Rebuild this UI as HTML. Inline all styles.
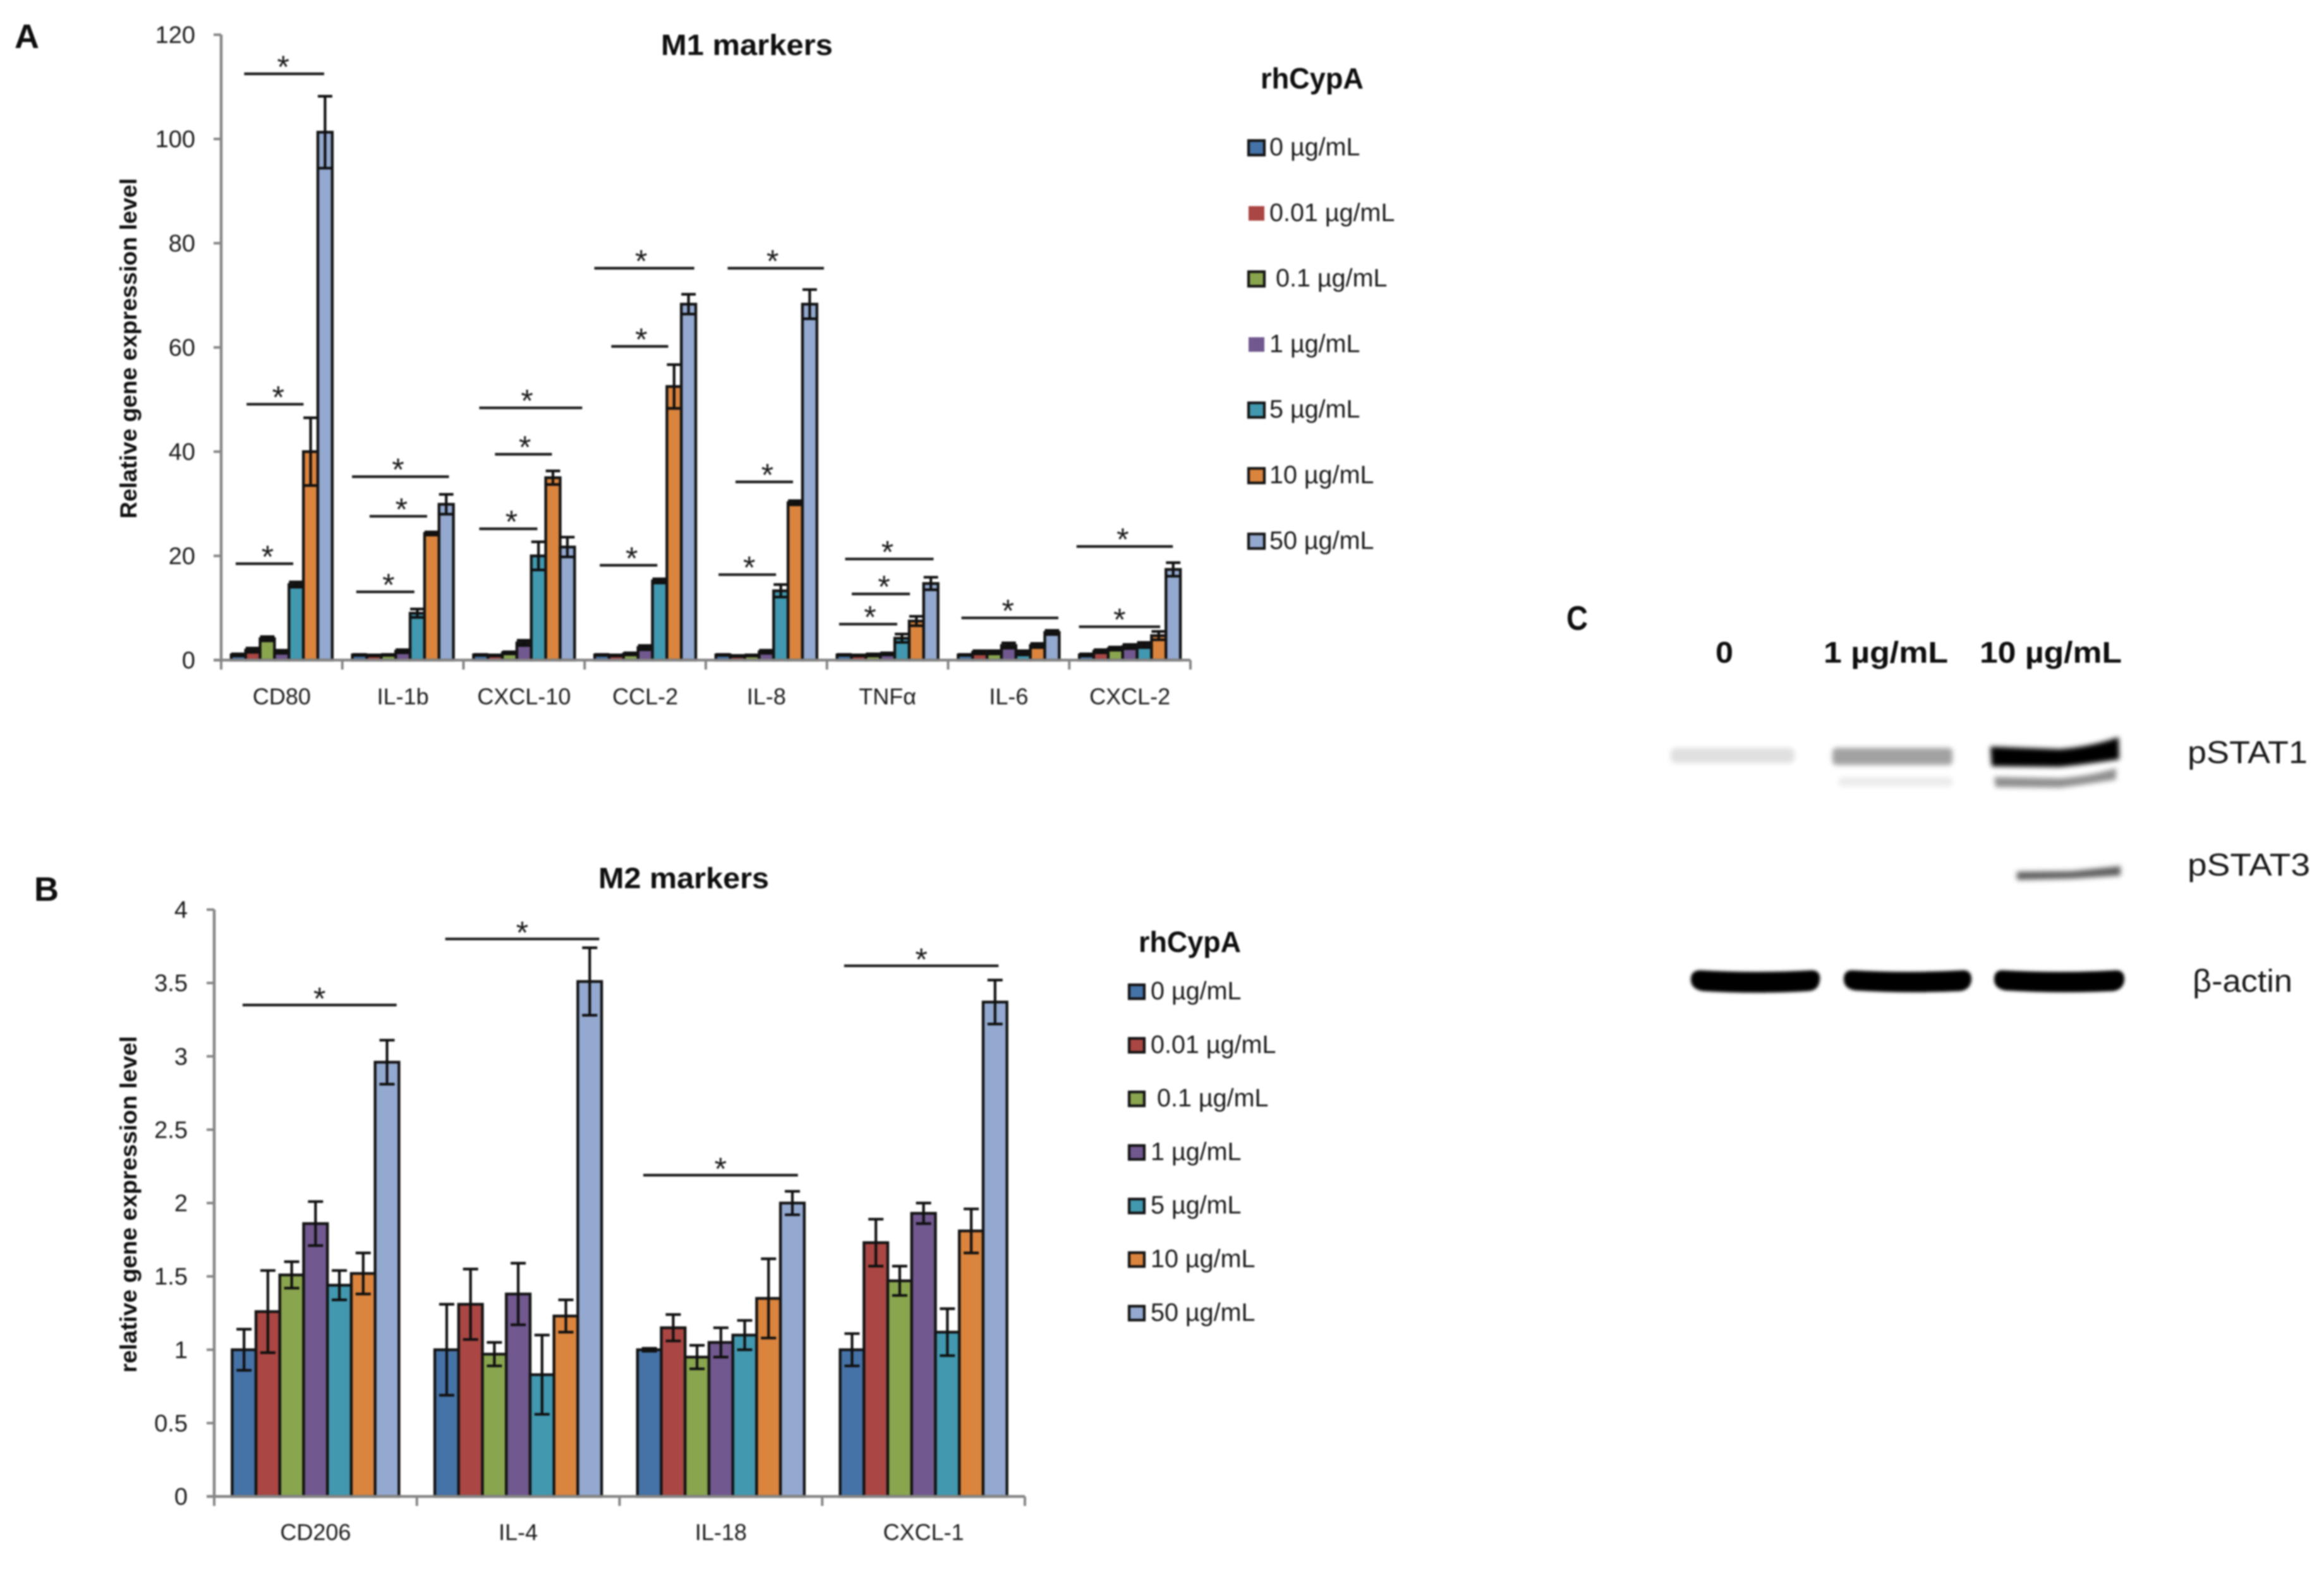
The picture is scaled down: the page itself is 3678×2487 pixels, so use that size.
<!DOCTYPE html>
<html lang="en">
<head>
<meta charset="utf-8">
<title>rhCypA M1 and M2 marker expression with STAT blot</title>
<style>
html,body{margin:0;padding:0;background:#fff}
svg{display:block;filter:blur(1.2px)}
text{font-family:"Liberation Sans",sans-serif;fill:#1a1a1a}
.bold{font-weight:bold;fill:#0e0e0e}
</style>
</head>
<body>
<svg id="figure" xmlns="http://www.w3.org/2000/svg" width="3678" height="2487" viewBox="0 0 3678 2487">
<defs>
<filter id="blur3" x="-20%" y="-100%" width="140%" height="300%"><feGaussianBlur stdDeviation="4"/></filter>
<filter id="blur2" x="-20%" y="-100%" width="140%" height="300%"><feGaussianBlur stdDeviation="2.5"/></filter>
</defs>
<rect width="3678" height="2487" fill="#fff"/>

<text class="bold" x="23" y="76" font-size="54">A</text>
<text class="bold" x="54" y="1426" font-size="54">B</text>
<text class="bold" x="2479" y="997" font-size="54" textLength="34" lengthAdjust="spacingAndGlyphs">C</text>

<text class="bold" x="1046" y="87" font-size="46" textLength="272" lengthAdjust="spacingAndGlyphs">M1 markers</text>
<text class="bold" x="947" y="1406" font-size="46" textLength="270" lengthAdjust="spacingAndGlyphs">M2 markers</text>
<text class="bold" x="1995" y="140" font-size="46" textLength="163" lengthAdjust="spacingAndGlyphs">rhCypA</text>
<text class="bold" x="1802" y="1507" font-size="46" textLength="162" lengthAdjust="spacingAndGlyphs">rhCypA</text>
<text class="bold" transform="translate(216,821) rotate(-90)" font-size="37" textLength="539" lengthAdjust="spacingAndGlyphs">Relative gene expression level</text>
<text class="bold" transform="translate(216,2173) rotate(-90)" font-size="37" textLength="533" lengthAdjust="spacingAndGlyphs">relative gene expression level</text>

<g id="chart-m1"></g>
<g id="chart-m2"></g>

<g>
  <text class="bold" x="2715" y="1049" font-size="47" textLength="28" lengthAdjust="spacingAndGlyphs">0</text>
  <text class="bold" x="2886" y="1049" font-size="47" textLength="197" lengthAdjust="spacingAndGlyphs">1 µg/mL</text>
  <text class="bold" x="3133" y="1049" font-size="47" textLength="225" lengthAdjust="spacingAndGlyphs">10 µg/mL</text>
  <text x="3462" y="1208" font-size="50" textLength="190" lengthAdjust="spacingAndGlyphs">pSTAT1</text>
  <text x="3462" y="1386" font-size="50" textLength="194" lengthAdjust="spacingAndGlyphs">pSTAT3</text>
  <text x="3470" y="1570" font-size="50" textLength="158" lengthAdjust="spacingAndGlyphs">β-actin</text>
  <g filter="url(#blur3)">
    <rect x="2644" y="1184" width="196" height="24" rx="8" fill="#e0e0e0"/>
    <rect x="2900" y="1184" width="190" height="27" rx="6" fill="#a2a2a2"/>
    <rect x="2910" y="1230" width="180" height="15" rx="5" fill="#ececec"/>
    <path d="M3150 1182 L3260 1186 Q3310 1182 3353 1167 L3354 1202 Q3300 1210 3260 1214 L3152 1213 Z" fill="#000"/>
    <path d="M3156 1230 L3260 1232 Q3310 1228 3349 1216 L3349 1234 Q3300 1242 3260 1247 L3158 1246 Z" fill="#909090"/>
    <path d="M3192 1380 L3280 1379 L3356 1371 L3356 1386 L3280 1391 L3192 1393 Z" fill="#606060"/>
  </g>
  <g filter="url(#blur2)">
    <path d="M2690 1536 Q2780 1541 2868 1536 Q2882 1537 2880 1552 Q2878 1568 2862 1569 Q2780 1574 2695 1569 Q2677 1566 2676 1552 Q2675 1537 2690 1536 Z" fill="#000"/>
    <path d="M2930 1536 Q3020 1541 3108 1536 Q3121 1537 3120 1552 Q3118 1567 3102 1569 Q3020 1573 2936 1568 Q2919 1565 2918 1552 Q2917 1537 2930 1536 Z" fill="#000"/>
    <path d="M3168 1536 Q3260 1541 3350 1536 Q3363 1537 3362 1552 Q3360 1567 3344 1569 Q3260 1573 3174 1568 Q3157 1565 3156 1552 Q3155 1537 3168 1536 Z" fill="#000"/>
  </g>
</g>
</svg>

<script>
const seriesLabels = ['0 µg/mL', '0.01 µg/mL', '0.1 µg/mL', '1 µg/mL', '5 µg/mL', '10 µg/mL', '50 µg/mL'];
const seriesColors = ['#4572A7', '#AA4643', '#89A54E', '#71588F', '#4198AF', '#DB843D', '#93A9CF'];

const m1Categories = ['CD80', 'IL-1b', 'CXCL-10', 'CCL-2', 'IL-8', 'TNFα', 'IL-6', 'CXCL-2'];
const m1TickLabels = ['0', '20', '40', '60', '80', '100', '120'];
const m1TickValues = [0, 20, 40, 60, 80, 100, 120];
const m1Cd80 = [1, 1.9, 4.1, 1.6, 14.5, 40, 101.3];
const m1Il1b = [1, 0.9, 1, 1.7, 9, 24.3, 29.9];
const m1Cxcl10 = [1, 0.9, 1.4, 3.3, 20, 35, 21.7];
const m1Ccl2 = [1, 0.9, 1.2, 2.4, 15.2, 52.5, 68.3];
const m1Il8 = [1, 0.8, 0.9, 1.6, 13.3, 30.2, 68.3];
const m1Tnfa = [1, 0.9, 1, 1.2, 4.2, 7.5, 14.7];
const m1Il6 = [1, 1.5, 1.5, 2.8, 1.4, 2.8, 5.3];
const m1Cxcl2 = [1, 1.7, 2.2, 2.6, 2.9, 4.7, 17.4];
const m1Cd80Err = [0.2, 0.4, 0.4, 0.3, 0.5, 6.5, 6.9];
const m1Il1bErr = [0.1, 0.1, 0.1, 0.3, 0.8, 0.3, 1.9];
const m1Cxcl10Err = [0.1, 0.1, 0.2, 0.5, 2.7, 1.3, 1.9];
const m1Ccl2Err = [0.1, 0.1, 0.2, 0.4, 0.4, 4.2, 1.9];
const m1Il8Err = [0.1, 0.1, 0.1, 0.3, 1.2, 0.4, 2.8];
const m1TnfaErr = [0.1, 0.1, 0.2, 0.2, 0.8, 0.9, 1.2];
const m1Il6Err = [0.1, 0.3, 0.3, 0.5, 0.4, 0.4, 0.4];
const m1Cxcl2Err = [0.2, 0.3, 0.3, 0.4, 0.5, 0.8, 1.3];
const m1Values = [m1Cd80, m1Il1b, m1Cxcl10, m1Ccl2, m1Il8, m1Tnfa, m1Il6, m1Cxcl2];
const m1Errors = [m1Cd80Err, m1Il1bErr, m1Cxcl10Err, m1Ccl2Err, m1Il8Err, m1TnfaErr, m1Il6Err, m1Cxcl2Err];
// significance brackets: start and end in category units, level in axis units, star offset in category units
const m1Sig = [
  [0.12, 0.595, 18.5, 0.026], [0.21, 0.68, 49.1, 0.026], [0.19, 0.85, 112.5, -0.008],
  [1.08, 1.88, 35.2, -0.02], [1.225, 1.70, 27.6, 0.026], [1.115, 1.595, 13.1, 0.026],
  [2.13, 2.98, 48.4, -0.03], [2.26, 2.73, 39.5, 0.012], [2.13, 2.61, 25.2, 0.026],
  [3.08, 3.905, 75.2, -0.026], [3.22, 3.69, 60.2, 0.012], [3.125, 3.6, 18.2, 0.026],
  [4.18, 4.975, 75.2, -0.026], [4.245, 4.72, 34.2, 0.026], [4.105, 4.58, 16.4, 0.016],
  [5.15, 5.88, 19.4, -0.016], [5.205, 5.685, 12.7, 0.026], [5.10, 5.58, 6.9, 0.016],
  [6.11, 6.91, 8.1, -0.016],
  [7.06, 7.855, 21.8, -0.016], [7.08, 7.75, 6.4, 0]
];

const m2Categories = ['CD206', 'IL-4', 'IL-18', 'CXCL-1'];
const m2TickLabels = ['0', '0.5', '1', '1.5', '2', '2.5', '3', '3.5', '4'];
const m2TickValues = [0, 0.5, 1, 1.5, 2, 2.5, 3, 3.5, 4];
const m2Cd206 = [1, 1.26, 1.51, 1.86, 1.44, 1.52, 2.96];
const m2Il4 = [1, 1.31, 0.97, 1.38, 0.83, 1.23, 3.51];
const m2Il18 = [1, 1.15, 0.95, 1.05, 1.1, 1.35, 2];
const m2Cxcl1 = [1, 1.73, 1.47, 1.93, 1.12, 1.81, 3.37];
const m2Cd206Err = [0.14, 0.28, 0.09, 0.15, 0.10, 0.14, 0.15];
const m2Il4Err = [0.31, 0.24, 0.08, 0.21, 0.27, 0.11, 0.23];
const m2Il18Err = [0.01, 0.09, 0.08, 0.1, 0.1, 0.27, 0.08];
const m2Cxcl1Err = [0.11, 0.16, 0.1, 0.07, 0.16, 0.15, 0.15];
const m2Values = [m2Cd206, m2Il4, m2Il18, m2Cxcl1];
const m2Errors = [m2Cd206Err, m2Il4Err, m2Il18Err, m2Cxcl1Err];
const m2Sig = [
  [0.14, 0.90, 3.35, 0], [1.14, 1.90, 3.80, 0], [2.117, 2.88, 2.19, 0], [3.108, 3.87, 3.617, 0]
];

const NS = 'http://www.w3.org/2000/svg';
function mk(tag, parent, attrs, txt) {
  const el = document.createElementNS(NS, tag);
  for (const k in attrs) el.setAttribute(k, attrs[k]);
  if (txt !== undefined) el.textContent = txt;
  parent.appendChild(el);
  return el;
}

function drawChart(g, prefix, o) {
  const xCat = c => o.x0 + c * (o.x1 - o.x0) / o.categories.length;
  const yVal = v => o.y0 - v * (o.y0 - o.yTop) / o.yMax;
  const catW = (o.x1 - o.x0) / o.categories.length;
  const barW = catW * o.barFrac;
  const pad = (catW - barW * 7) / 2;
  const capW = Math.min(24, barW);

  o.values.forEach((row, c) => {
    row.forEach((v, s) => {
      const bx = xCat(c) + pad + s * barW;
      const bar = mk('rect', g, {x: bx, y: yVal(v), width: barW, height: o.y0 - yVal(v), fill: seriesColors[s], stroke: '#141414', 'stroke-width': 4.4});
      
      
      const e = o.errors[c][s];
      const mid = bx + barW / 2;
      const err = mk('path', g, {
        d: 'M' + mid + ' ' + yVal(v + e) + 'V' + yVal(Math.max(0, v - e)) +
           'M' + (mid - capW / 2) + ' ' + yVal(v + e) + 'h' + capW +
           'M' + (mid - capW / 2) + ' ' + yVal(Math.max(0, v - e)) + 'h' + capW,
        fill: 'none', stroke: '#101010', 'stroke-width': 4.2});
      
      
    });
  });

  const yAxis = mk('line', g, {x1: o.x0, x2: o.x0, y1: o.yTop, y2: o.y0, stroke: '#868686', 'stroke-width': 4.5});
  
  
  const xAxis = mk('line', g, {x1: o.x0 - 12, x2: o.x1, y1: o.y0, y2: o.y0, stroke: '#868686', 'stroke-width': 4.5});
  
  

  o.tickValues.forEach((v, i) => {
    const t = mk('line', g, {x1: o.x0 - 12, x2: o.x0, y1: yVal(v), y2: yVal(v), stroke: '#868686', 'stroke-width': 4});
    
    
    const lab = mk('text', g, {x: o.tickLabelX, y: yVal(v) + 13, 'text-anchor': 'end', 'font-size': 38}, o.tickLabels[i]);
    
    
  });

  for (let c = 0; c <= o.categories.length; c++) {
    const t = mk('line', g, {x1: xCat(c), x2: xCat(c), y1: o.y0, y2: o.y0 + 15, stroke: '#868686', 'stroke-width': 4});
    
    
  }
  o.categories.forEach((name, c) => {
    const lab = mk('text', g, {x: xCat(c + 0.5), y: o.y0 + o.catLabelDy, 'text-anchor': 'middle', 'font-size': 36}, name);
    
    
  });

  o.sig.forEach(br => {
    const ln = mk('line', g, {x1: xCat(br[0]), x2: xCat(br[1]), y1: yVal(br[2]), y2: yVal(br[2]), stroke: '#1a1a1a', 'stroke-width': 4.2});
    
    
    const st = mk('text', g, {x: xCat((br[0] + br[1]) / 2 + br[3]), y: yVal(br[2]) + o.starDy, 'text-anchor': 'middle', 'font-size': 50}, '*');
    
    
  });

  seriesLabels.forEach((label, s) => {
    const cy = o.legendY + s * o.legendStep;
    const borderless = prefix === 'm1' && (s === 1 || s === 3);
    const sw = mk('rect', g, {x: o.legendX, y: cy - o.swH / 2, width: o.swW, height: o.swH, fill: seriesColors[s],
      stroke: borderless ? 'none' : '#141414', 'stroke-width': 4.2});
    
    
    const tx = mk('text', g, {x: o.legendTextX + (s === 2 ? 10 : 0), y: cy + 12, 'font-size': 39.5}, label);
    
    
  });
}

drawChart(document.getElementById('chart-m1'), 'm1', {
  x0: 350, x1: 1884, y0: 1045, yTop: 55, yMax: 120, barFrac: 0.1192,
  categories: m1Categories, values: m1Values, errors: m1Errors, sig: m1Sig,
  tickValues: m1TickValues, tickLabels: m1TickLabels, tickLabelX: 309, catLabelDy: 70, starDy: 6,
  legendX: 1976, legendY: 234, legendStep: 103.8, swW: 25, swH: 23, legendTextX: 2009
});
drawChart(document.getElementById('chart-m2'), 'm2', {
  x0: 339, x1: 1622, y0: 2369, yTop: 1440, yMax: 4, barFrac: 0.1176,
  categories: m2Categories, values: m2Values, errors: m2Errors, sig: m2Sig,
  tickValues: m2TickValues, tickLabels: m2TickLabels, tickLabelX: 297, catLabelDy: 69, starDy: 7,
  legendX: 1787, legendY: 1570, legendStep: 84.8, swW: 24, swH: 22, legendTextX: 1821
});
</script>
</body>
</html>
